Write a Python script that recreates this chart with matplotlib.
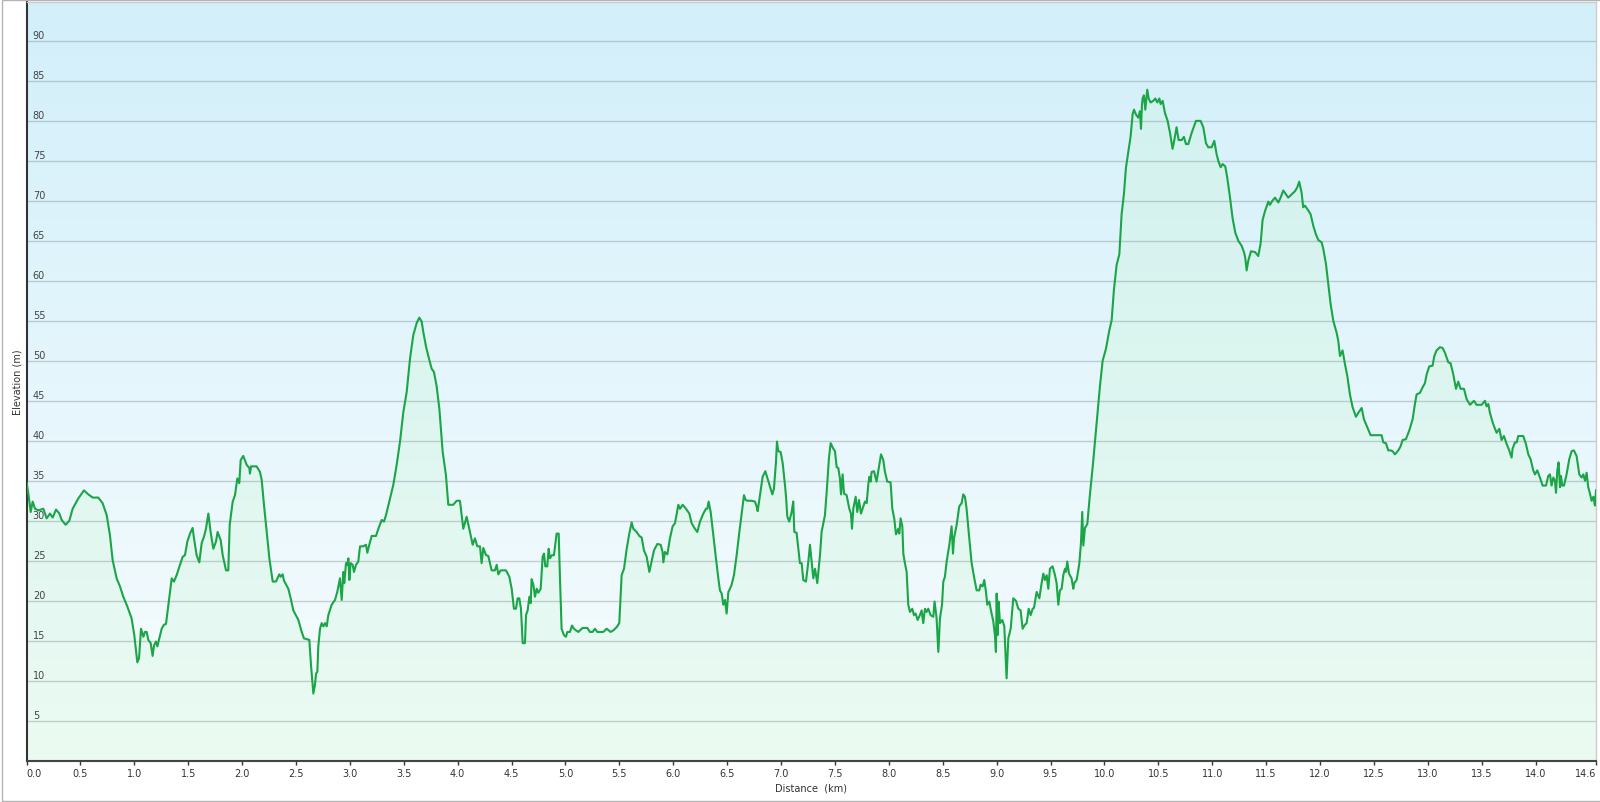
import numpy as np
import matplotlib
matplotlib.use("Agg")
import matplotlib.pyplot as plt
import matplotlib.transforms as mtransforms
from matplotlib.colors import LinearSegmentedColormap
from matplotlib.patches import Rectangle

# elevation profile: distance (km), elevation (m)
dist_km = [
    0.000, 0.017, 0.039, 0.057, 0.079, 0.110, 0.156, 0.187, 0.218, 0.243,
    0.274, 0.305, 0.326, 0.363, 0.397, 0.428, 0.481, 0.533, 0.573, 0.614,
    0.666, 0.706, 0.744, 0.774, 0.799, 0.836, 0.867, 0.898, 0.935, 0.975,
    1.000, 1.028, 1.044, 1.062, 1.084, 1.099, 1.115, 1.130, 1.152, 1.170,
    1.183, 1.201, 1.214, 1.232, 1.254, 1.275, 1.294, 1.316, 1.347, 1.368,
    1.393, 1.424, 1.449, 1.470, 1.492, 1.517, 1.541, 1.554, 1.578, 1.603,
    1.625, 1.646, 1.665, 1.687, 1.708, 1.733, 1.758, 1.773, 1.801, 1.820,
    1.851, 1.872, 1.885, 1.913, 1.934, 1.956, 1.974, 1.987, 2.011, 2.042,
    2.067, 2.073, 2.083, 2.135, 2.166, 2.182, 2.203, 2.228, 2.253, 2.284,
    2.314, 2.345, 2.358, 2.376, 2.389, 2.429, 2.451, 2.475, 2.522, 2.553,
    2.574, 2.624, 2.639, 2.661, 2.676, 2.686, 2.698, 2.707, 2.723, 2.738,
    2.754, 2.769, 2.785, 2.800, 2.831, 2.862, 2.883, 2.908, 2.924, 2.939,
    2.948, 2.964, 2.976, 2.986, 2.995, 3.007, 3.026, 3.038, 3.057, 3.078,
    3.094, 3.125, 3.149, 3.162, 3.180, 3.202, 3.242, 3.264, 3.295, 3.316,
    3.335, 3.372, 3.403, 3.434, 3.465, 3.496, 3.527, 3.558, 3.588, 3.619,
    3.644, 3.666, 3.681, 3.706, 3.737, 3.759, 3.780, 3.805, 3.830, 3.861,
    3.891, 3.913, 3.959, 3.990, 4.021, 4.052, 4.083, 4.114, 4.139, 4.160,
    4.182, 4.207, 4.222, 4.238, 4.263, 4.284, 4.315, 4.346, 4.362, 4.377,
    4.399, 4.448, 4.479, 4.501, 4.522, 4.541, 4.556, 4.572, 4.587, 4.603,
    4.624, 4.634, 4.649, 4.665, 4.677, 4.686, 4.702, 4.717, 4.733, 4.748,
    4.770, 4.788, 4.801, 4.813, 4.831, 4.844, 4.856, 4.875, 4.893, 4.918,
    4.937, 4.949, 4.964, 4.986, 5.005, 5.017, 5.042, 5.060, 5.079, 5.097,
    5.119, 5.159, 5.203, 5.227, 5.252, 5.274, 5.295, 5.351, 5.382, 5.419,
    5.444, 5.475, 5.499, 5.521, 5.543, 5.568, 5.592, 5.614, 5.629, 5.660,
    5.685, 5.707, 5.728, 5.753, 5.778, 5.799, 5.821, 5.852, 5.883, 5.901,
    5.908, 5.923, 5.945, 5.969, 5.994, 6.016, 6.047, 6.062, 6.087, 6.118,
    6.149, 6.170, 6.201, 6.223, 6.248, 6.279, 6.303, 6.316, 6.328, 6.347,
    6.371, 6.396, 6.418, 6.433, 6.449, 6.464, 6.480, 6.495, 6.511, 6.526,
    6.541, 6.563, 6.588, 6.613, 6.634, 6.656, 6.671, 6.690, 6.727, 6.758,
    6.773, 6.783, 6.804, 6.829, 6.854, 6.872, 6.897, 6.919, 6.934, 6.953,
    6.962, 6.974, 6.996, 7.015, 7.036, 7.046, 7.058, 7.076, 7.098, 7.113,
    7.123, 7.144, 7.160, 7.175, 7.191, 7.206, 7.231, 7.253, 7.268, 7.284,
    7.299, 7.315, 7.336, 7.361, 7.376, 7.407, 7.423, 7.444, 7.460, 7.485,
    7.500, 7.516, 7.531, 7.546, 7.556, 7.571, 7.584, 7.608, 7.633, 7.648,
    7.658, 7.670, 7.692, 7.707, 7.723, 7.741, 7.763, 7.778, 7.794, 7.809,
    7.819, 7.831, 7.840, 7.862, 7.886, 7.905, 7.927, 7.948, 7.964, 7.985,
    8.016, 8.032, 8.050, 8.066, 8.087, 8.097, 8.109, 8.125, 8.134, 8.149,
    8.165, 8.180, 8.196, 8.217, 8.233, 8.248, 8.267, 8.288, 8.304, 8.319,
    8.335, 8.350, 8.366, 8.387, 8.412, 8.424, 8.443, 8.459, 8.474, 8.493,
    8.505, 8.520, 8.536, 8.561, 8.582, 8.595, 8.604, 8.629, 8.653, 8.675,
    8.690, 8.706, 8.721, 8.746, 8.768, 8.790, 8.814, 8.839, 8.851, 8.870,
    8.885, 8.901, 8.913, 8.932, 8.944, 8.969, 8.984, 8.993, 9.000, 9.009,
    9.018, 9.031, 9.052, 9.071, 9.092, 9.108, 9.130, 9.154, 9.179, 9.201,
    9.222, 9.241, 9.262, 9.278, 9.297, 9.315, 9.334, 9.346, 9.371, 9.396,
    9.417, 9.433, 9.448, 9.464, 9.479, 9.494, 9.519, 9.541, 9.556, 9.572,
    9.587, 9.603, 9.618, 9.634, 9.643, 9.655, 9.671, 9.695, 9.711, 9.720,
    9.742, 9.757, 9.767, 9.782, 9.794, 9.804, 9.819, 9.841, 9.866, 9.890,
    9.912, 9.934, 9.958, 9.983, 10.014, 10.045, 10.067, 10.088, 10.113, 10.138,
    10.159, 10.181, 10.199, 10.221, 10.243, 10.261, 10.274, 10.292, 10.314, 10.329,
    10.339, 10.348, 10.354, 10.366, 10.379, 10.397, 10.410, 10.428, 10.453, 10.472,
    10.490, 10.509, 10.521, 10.540, 10.561, 10.586, 10.608, 10.632, 10.648, 10.669,
    10.688, 10.716, 10.737, 10.756, 10.778, 10.809, 10.849, 10.892, 10.917, 10.942,
    10.963, 10.994, 11.019, 11.041, 11.056, 11.078, 11.096, 11.121, 11.139, 11.164,
    11.189, 11.214, 11.242, 11.272, 11.294, 11.306, 11.319, 11.334, 11.359, 11.396,
    11.427, 11.449, 11.467, 11.489, 11.520, 11.535, 11.557, 11.582, 11.613, 11.634,
    11.659, 11.705, 11.736, 11.767, 11.789, 11.807, 11.829, 11.844, 11.860, 11.891,
    11.913, 11.937, 11.962, 11.984, 12.015, 12.030, 12.055, 12.076, 12.098, 12.123,
    12.154, 12.169, 12.185, 12.209, 12.231, 12.253, 12.277, 12.302, 12.333, 12.355,
    12.386, 12.407, 12.438, 12.469, 12.509, 12.540, 12.571, 12.587, 12.611, 12.633,
    12.655, 12.673, 12.695, 12.726, 12.747, 12.766, 12.797, 12.828, 12.859, 12.880,
    12.896, 12.927, 12.952, 12.973, 12.989, 13.013, 13.044, 13.060, 13.081, 13.112,
    13.137, 13.159, 13.190, 13.211, 13.236, 13.261, 13.282, 13.304, 13.335, 13.360,
    13.391, 13.406, 13.428, 13.452, 13.499, 13.530, 13.545, 13.561, 13.576, 13.601,
    13.623, 13.638, 13.663, 13.684, 13.706, 13.731, 13.755, 13.777, 13.786, 13.808,
    13.824, 13.839, 13.885, 13.910, 13.932, 13.953, 13.978, 13.994, 14.015, 14.040,
    14.065, 14.096, 14.117, 14.133, 14.148, 14.164, 14.179, 14.189, 14.201, 14.213,
    14.226, 14.235, 14.247, 14.263, 14.287, 14.312, 14.334, 14.355, 14.380, 14.405,
    14.426, 14.442, 14.458, 14.473, 14.488, 14.504, 14.519, 14.535, 14.550, 14.560,
]
elev_m = [
    34.8, 33.4, 31.1, 32.4, 31.5, 31.3, 31.5, 30.3, 30.9, 30.4,
    31.4, 30.9, 30.1, 29.5, 30.0, 31.5, 32.8, 33.8, 33.3, 32.9,
    32.9, 32.2, 30.7, 28.2, 25.1, 22.8, 21.8, 20.5, 19.3, 17.8,
    15.7, 12.3, 12.8, 16.5, 15.5, 16.1, 16.1, 15.1, 14.7, 13.1,
    14.4, 14.9, 14.3, 15.3, 16.5, 17.0, 17.1, 19.5, 22.8, 22.4,
    23.2, 24.5, 25.5, 25.7, 27.4, 28.4, 29.1, 27.8, 25.7, 24.8,
    27.2, 28.0, 29.0, 30.9, 28.6, 26.5, 27.4, 28.6, 27.6, 25.7,
    23.8, 23.8, 29.5, 32.4, 33.2, 35.3, 34.7, 37.6, 38.1, 37.0,
    36.6, 35.9, 36.8, 36.8, 36.1, 35.1, 32.0, 28.6, 25.3, 22.4,
    22.4, 23.3, 23.0, 23.3, 22.5, 21.5, 20.3, 18.8, 17.6, 16.1,
    15.3, 15.1, 12.0, 8.4, 9.5, 10.9, 11.1, 14.3, 16.5, 17.2,
    16.8, 17.2, 16.8, 18.2, 19.5, 20.1, 21.1, 22.8, 20.1, 23.6,
    22.2, 24.7, 24.5, 25.3, 22.6, 24.7, 24.5, 23.6, 24.5, 24.9,
    26.8, 26.8, 27.0, 26.0, 27.0, 28.1, 28.1, 29.0, 30.1, 29.9,
    30.7, 32.8, 34.5, 37.0, 39.9, 43.6, 46.1, 50.3, 53.2, 54.7,
    55.4, 54.9, 53.6, 51.8, 50.1, 49.0, 48.6, 46.8, 44.0, 38.6,
    35.7, 32.0, 32.0, 32.5, 32.5, 29.0, 30.5, 28.6, 27.0, 27.8,
    26.8, 26.8, 24.7, 26.6, 25.7, 25.6, 23.8, 23.8, 24.5, 23.3,
    23.8, 23.8, 23.0, 21.5, 19.0, 19.0, 20.3, 20.3, 19.0, 14.7,
    14.7, 18.2, 18.8, 20.5, 19.7, 22.7, 22.0, 20.5, 21.5, 21.0,
    21.5, 25.5, 25.9, 24.3, 24.3, 26.5, 25.3, 25.7, 25.7, 28.4,
    28.4, 22.8, 16.5, 15.7, 15.5, 16.1, 16.1, 16.9, 16.5, 16.3,
    16.1, 16.6, 16.6, 16.1, 16.1, 16.5, 16.1, 16.1, 16.5, 16.1,
    16.3, 16.7, 17.2, 23.2, 24.0, 26.5, 28.4, 29.8, 29.0, 28.6,
    28.1, 27.9, 26.3, 25.5, 23.6, 24.9, 26.3, 27.1, 27.0, 26.1,
    24.8, 26.1, 25.8, 27.8, 29.3, 29.7, 32.0, 31.5, 32.0, 31.5,
    30.9, 29.7, 29.0, 28.6, 29.9, 30.9, 31.5, 31.5, 32.4, 31.1,
    28.2, 25.3, 22.8, 21.3, 20.9, 19.5, 20.1, 18.4, 21.1, 21.5,
    22.0, 23.2, 25.7, 28.6, 30.9, 33.2, 32.6, 32.5, 32.5, 32.4,
    31.8, 31.2, 33.2, 35.5, 36.2, 35.4, 34.3, 33.3, 34.0, 37.4,
    39.9, 38.7, 38.6, 37.2, 34.5, 33.0, 30.5, 29.9, 31.1, 32.4,
    28.6, 28.5, 26.5, 24.7, 24.7, 22.6, 22.4, 24.9, 27.0, 24.9,
    22.8, 24.0, 22.2, 25.7, 28.6, 30.7, 33.6, 37.8, 39.7, 39.0,
    38.7, 36.7, 36.6, 35.3, 33.3, 35.8, 33.4, 33.2, 31.5, 30.9,
    29.0, 31.5, 33.0, 31.1, 32.6, 30.9, 31.8, 32.4, 32.2, 34.5,
    35.5, 34.9, 36.1, 36.2, 34.9, 36.5, 38.3, 37.6, 36.1, 34.9,
    34.8, 31.5, 30.3, 28.3, 29.0, 28.4, 30.3, 29.3, 25.9, 24.7,
    23.6, 19.5, 18.6, 19.0, 18.2, 18.4, 17.6, 18.2, 18.8, 17.2,
    19.0, 18.6, 19.0, 18.2, 18.0, 19.9, 17.8, 13.6, 17.8, 19.5,
    22.4, 23.0, 24.9, 27.0, 29.3, 25.9, 27.8, 29.5, 31.8, 32.2,
    33.3, 33.0, 31.5, 27.8, 24.7, 23.0, 21.3, 21.3, 22.0, 21.8,
    22.6, 21.1, 19.5, 19.9, 19.0, 17.4, 15.7, 13.6, 20.9, 15.7,
    19.9, 17.2, 17.6, 16.8, 10.3, 15.3, 16.5, 20.3, 20.0, 19.0,
    18.8, 16.5, 17.0, 17.2, 19.0, 18.2, 19.0, 19.1, 21.1, 20.3,
    22.2, 23.4, 22.6, 23.2, 21.5, 24.0, 24.3, 23.2, 22.2, 19.5,
    21.3, 21.5, 23.2, 24.0, 23.6, 24.9, 23.4, 22.8, 21.5, 22.2,
    22.6, 23.8, 24.7, 27.2, 31.1, 26.9, 29.1, 29.6, 33.4, 36.6,
    39.9, 43.3, 46.8, 50.0, 51.5, 53.8, 55.1, 58.9, 62.0, 63.3,
    68.3, 70.9, 74.1, 76.1, 78.1, 80.8, 81.4, 80.8, 80.4, 81.2,
    79.0, 82.0, 82.8, 83.2, 81.4, 83.9, 82.8, 82.3, 82.5, 82.8,
    82.3, 82.8, 82.1, 82.5, 81.0, 80.0, 78.5, 76.5, 77.6, 79.2,
    77.6, 77.6, 78.0, 77.1, 77.1, 78.5, 80.0, 80.0, 79.2, 77.2,
    76.7, 76.7, 77.5, 75.8, 75.0, 74.2, 74.6, 74.3, 72.9, 70.5,
    67.8, 66.0, 65.0, 64.4, 63.6, 62.9, 61.3, 62.5, 63.7, 63.6,
    63.1, 64.7, 67.6, 68.7, 69.9, 69.5, 70.0, 70.4, 69.8, 70.4,
    71.3, 70.4, 70.8, 71.2, 71.7, 72.4, 71.0, 69.2, 69.4, 68.8,
    68.3, 66.9, 65.8, 65.1, 64.8, 64.0, 62.1, 59.6, 57.1, 55.0,
    53.5, 52.5, 50.6, 51.3, 49.6, 48.1, 45.8, 44.2, 43.0, 43.5,
    44.1, 42.7, 41.7, 40.7, 40.7, 40.7, 40.7, 39.8, 39.7, 38.8,
    38.8, 38.7, 38.3, 38.8, 39.3, 40.1, 40.2, 41.3, 42.7, 44.6,
    45.8, 46.0, 46.7, 47.2, 48.3, 49.3, 49.4, 50.6, 51.3, 51.7,
    51.6, 51.0, 49.8, 49.7, 48.3, 46.5, 47.4, 46.5, 46.5, 45.2,
    44.5, 44.7, 45.0, 44.5, 44.5, 45.0, 44.3, 44.6, 43.5, 42.3,
    41.5, 41.0, 41.5, 40.1, 40.6, 39.6, 38.8, 37.9, 39.0, 39.8,
    39.8, 40.6, 40.6, 39.6, 38.3, 37.7, 36.3, 35.8, 36.3, 35.4,
    34.4, 34.4, 35.6, 35.8, 34.4, 35.4, 35.0, 33.5, 36.3, 37.3,
    34.2, 35.6, 34.4, 34.4, 35.8, 37.7, 38.7, 38.8, 38.1, 35.8,
    35.4, 35.8, 35.0, 36.0, 34.2, 33.4, 32.5, 33.0, 31.9, 33.8,
]

y_ticks = [5, 10, 15, 20, 25, 30, 35, 40, 45, 50, 55, 60, 65, 70, 75, 80, 85, 90]
x_ticks = [0.0, 0.5, 1.0, 1.5, 2.0, 2.5, 3.0, 3.5, 4.0, 4.5, 5.0, 5.5, 6.0, 6.5,
           7.0, 7.5, 8.0, 8.5, 9.0, 9.5, 10.0, 10.5, 11.0, 11.5, 12.0, 12.5,
           13.0, 13.5, 14.0, 14.56]
x_tick_labels = ["0.0", "0.5", "1.0", "1.5", "2.0", "2.5", "3.0", "3.5", "4.0",
                 "4.5", "5.0", "5.5", "6.0", "6.5", "7.0", "7.5", "8.0", "8.5",
                 "9.0", "9.5", "10.0", "10.5", "11.0", "11.5", "12.0", "12.5",
                 "13.0", "13.5", "14.0", "14.6"]
x_max = 14.56
y_max = 94.9

plt.rcParams['font.family'] = ['DejaVu Sans']

fig = plt.figure(figsize=(16, 8.03), dpi=100)
fig.patch.set_facecolor('white')
ax = fig.add_axes([26.5 / 1600, 41.3 / 803, (1596 - 26.5) / 1600, (761.7 - 2.7) / 803])

# background gradient (light cyan at top to near white at bottom)
bg = LinearSegmentedColormap.from_list('bg', ['#f8fdfe', '#d2effa'])
grad = np.linspace(0, 1, 256).reshape(-1, 1)
ax.imshow(grad, cmap=bg, aspect='auto', origin='lower',
          extent=[0, x_max, 0, y_max], zorder=0, interpolation='bilinear')

ax.fill_between(dist_km, 0, elev_m, color='#c8f5d2', alpha=0.27, lw=0, zorder=1)

for v in y_ticks:
    ax.axhline(v, color='#7a8a90', alpha=0.38, lw=1.0, zorder=2)

ax.plot(dist_km, elev_m, color='#1aa546', lw=1.5, zorder=3)

ax.set_xlim(0, x_max)
ax.set_ylim(0, y_max)

# y labels sit inside the plot, just above each grid line
trans = mtransforms.blended_transform_factory(ax.transAxes, ax.transData)
trans = mtransforms.offset_copy(trans, fig=fig, x=0, y=3, units='dots')
for v in y_ticks:
    ax.text(0.004, v, str(v), transform=trans, fontsize=7, color='#444444',
            ha='left', va='baseline', zorder=4)
ax.set_yticks([])

ax.set_xticks(x_ticks)
ax.set_xticklabels(x_tick_labels, fontsize=7, color='#333333')
labels = ax.get_xticklabels()
labels[0].set_ha('left')
labels[-1].set_ha('right')
ax.tick_params(axis='x', direction='out', length=3, width=1, color='#333333', pad=2)

for side in ['top', 'right']:
    ax.spines[side].set_color('#cccccc')
    ax.spines[side].set_linewidth(1.0)
ax.spines['left'].set_color('#333333')
ax.spines['left'].set_linewidth(1.5)
ax.spines['bottom'].set_color('#444444')
ax.spines['bottom'].set_linewidth(1.5)

fig.text(811 / 1600, 1 - 789 / 803, 'Distance  (km)', fontsize=7, color='#333333',
         ha='center', va='center')
fig.text(17.4 / 1600, 1 - 382 / 803, 'Elevation (m)', fontsize=7, color='#333333',
         ha='center', va='center', rotation=90)

# thin outer frame around the chart
fig.patches.append(Rectangle((1.5 / 1600, 1.3 / 803), 1.0, 1 - 2.6 / 803,
                             transform=fig.transFigure, fill=False,
                             edgecolor='#b4b4b4', lw=1.0))

fig.savefig('out.png', dpi=100)
